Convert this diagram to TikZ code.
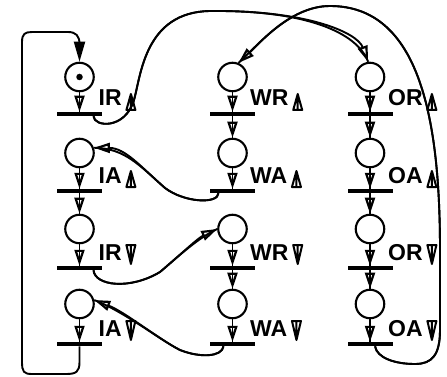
\documentclass[tikz,border=0pt]{standalone}
\usepackage{fontspec}
\setmainfont{Liberation Sans}
\usetikzlibrary{arrows.meta}
\tikzset{
  placenode/.style={circle,draw,line width=2.1pt,minimum size=28.5pt,inner sep=0pt},
  transbar/.style={rectangle,fill=black,minimum width=45pt,minimum height=4.5pt,inner sep=0pt,outer sep=0pt},
  flow/.style={line width=1.9pt,-{Triangle[open,length=16pt,width=10pt,line width=2.2pt]},postaction={draw,arrows=-}},
  initflow/.style={line width=1.9pt,-{Triangle[length=20pt,width=11pt]}},
  lbl/.style={font=\fontsize{23}{23}\selectfont\bfseries,inner sep=0pt,anchor=base west},
  uptri/.pic={\draw[line width=2pt,line join=round] (0,4)--(4.5,-12)--(9,4)--cycle (4.5,4)--(4.5,-12);},
  downtri/.pic={\draw[line width=2pt,line join=round] (0,-15)--(4.5,4)--(9,-15)--cycle (4.5,-15)--(4.5,4);}
}
\begin{document}
\begin{tikzpicture}[x=1pt,y=-1pt]
\useasboundingbox (0,0) rectangle (447,377);
% places and transitions
\foreach \c/\x in {I/79.5,W/232.5,O/370} {
  \foreach \r/\yp/\yt in {1/77/114,2/153/191,3/229/268,4/304/344} {
    \node[placenode] (p\c\r) at (\x,\yp) {};
    \node[transbar] (t\c\r) at (\x,\yt) {};
  }
}
\node[circle,fill=black,minimum size=6.5pt,inner sep=0pt] (tok) at (pI1) {};
% labels
\node[lbl] (lI1) at (98.5,106) {IR};
\node[lbl] (lI2) at (98.5,183) {IA};
\node[lbl] (lI3) at (98.5,260) {IR};
\node[lbl] (lI4) at (98.5,336) {IA};
\node[lbl] (lW1) at (250,106) {WR};
\node[lbl] (lW2) at (250,183) {WA};
\node[lbl] (lW3) at (250,260) {WR};
\node[lbl] (lW4) at (250,336) {WA};
\node[lbl] (lO1) at (388,106) {OR};
\node[lbl] (lO2) at (388,183) {OA};
\node[lbl] (lO3) at (388,260) {OR};
\node[lbl] (lO4) at (388,336) {OA};
\foreach \c in {I,W,O} {
  \pic at ([xshift=4.5pt]l\c1.base east) {uptri};
  \pic at ([xshift=4.5pt]l\c2.base east) {uptri};
  \pic at ([xshift=4.5pt]l\c3.base east) {downtri};
  \pic at ([xshift=4.5pt]l\c4.base east) {downtri};
}
% column arcs
\draw[flow] (pI1) -- (tI1);
\draw[flow] (pI2) -- (tI2);
\draw[flow] (tI2) -- (pI3);
\draw[flow] (pI3) -- (tI3);
\draw[flow] (pI4) -- (tI4);
\draw[flow] (pW1) -- (tW1);
\draw[flow] (tW1) -- (pW2);
\draw[flow] (pW2) -- (tW2);
\draw[flow] (pW3) -- (tW3);
\draw[flow] (tW3) -- (pW4);
\draw[flow] (pW4) -- (tW4);
\draw[flow] (pO1) -- (tO1);
\draw[flow] (tO1) -- (pO2);
\draw[flow] (pO2) -- (tO2);
\draw[flow] (tO2) -- (pO3);
\draw[flow] (pO3) -- (tO3);
\draw[flow] (tO3) -- (pO4);
\draw[flow] (pO4) -- (tO4);
% cross arcs
\draw[flow] ([xshift=14pt]tI1.south) .. controls (94,127) and (125,130) .. (134,100)
  .. controls (141,75) and (145,12) .. (210,11)
  .. controls (305,10) and (357,32) .. (pO1.97);
\draw[flow] ([xshift=5pt]tO4.south) .. controls (377,358) and (395,364) .. (415,364)
  .. controls (432,364) and (440,355) .. (440,330) -- (440,250)
  .. controls (440,120) and (420,6) .. (330,6)
  .. controls (290,6) and (258,45) .. (pW1.67);
\draw[flow] ([xshift=-14pt]tW2.south) .. controls (218,204) and (185,203) .. (165,188)
  .. controls (140,166) and (125,148) .. (pI2.20);
\draw[flow] ([xshift=14pt]tI3.south) .. controls (95,286) and (130,290) .. (160,272)
  .. controls (180,255) and (198,238) .. (pW3.west);
\draw[flow] ([xshift=-9pt]tW4.south) .. controls (222,357) and (200,358) .. (180,350)
  .. controls (160,340) and (125,312) .. (pI4.15);
% loop back to the initial place
\draw[initflow] (tI4.south) -- (79.5,362) .. controls (79.5,372) and (76,374) .. (66,374)
  -- (32,374) .. controls (24,374) and (22,372) .. (22,362) -- (22,42)
  .. controls (22,34) and (25,32) .. (32,32) -- (68,32)
  .. controls (76,32) and (79.5,36) .. (79.5,44) -- (pI1.north);
\end{tikzpicture}
\end{document}
